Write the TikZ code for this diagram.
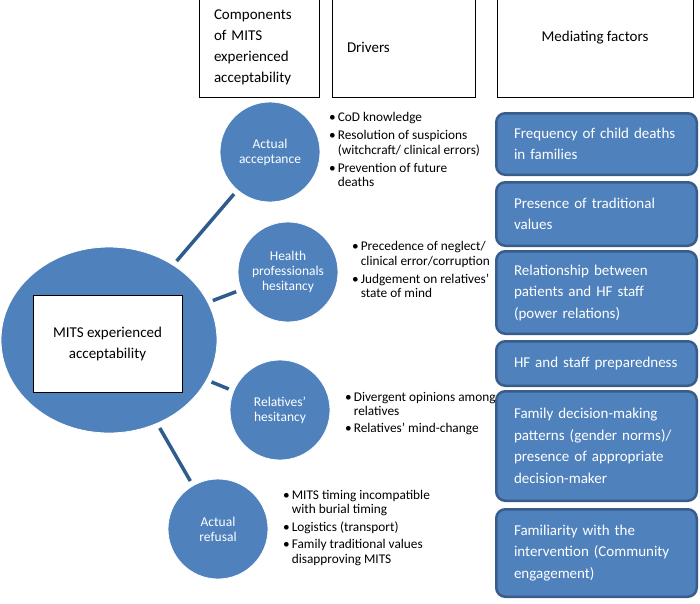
\documentclass[tikz,border=0pt]{standalone}
\usepackage{fontspec}
\setmainfont{Carlito}
\usetikzlibrary{shapes.geometric,positioning}
\definecolor{mitsblue}{HTML}{4F81BD}
\definecolor{mitsedge}{HTML}{385D8A}
\definecolor{mitsline}{HTML}{2E5C8E}
\newcommand{\bul}{\textbullet}
\tikzset{
headbox/.style={draw=black,line width=1pt,minimum height=99pt,inner xsep=15pt,font=\fontsize{15}{21}\selectfont},
hub/.style={ellipse,fill=mitsblue,draw=white,line width=0.8pt,minimum width=216pt,minimum height=186pt,inner sep=0pt},
hublabel/.style={draw=black,line width=1pt,fill=white,minimum width=149pt,minimum height=97pt,align=center,font=\fontsize{15}{21}\selectfont},
comp/.style={circle,fill=mitsblue,draw=white,line width=0.8pt,minimum size=100pt,inner sep=0pt,text=white,align=center,font=\fontsize{13.5}{15}\selectfont},
drivers/.style={anchor=west,inner sep=0pt,font=\fontsize{13.3}{14.5}\selectfont},
factor/.style={rounded corners=9pt,fill=mitsblue,draw=mitsedge,line width=2.5pt,minimum width=200.5pt,text width=165pt,inner xsep=17.75pt,align=left,text=white,font=\fontsize{15}{21.5}\selectfont},
spoke/.style={mitsline,line width=3.5pt,shorten <=5pt,shorten >=5pt}
}

\begin{document}
\begin{tikzpicture}[x=1pt,y=-1pt]
\useasboundingbox (0,0) rectangle (700,603);
% column headings
\node[headbox,minimum width=120pt,text width=90pt,align=left] (hcomp) at (259,47.5) {Components\\of MITS\\experienced\\acceptability};
\node[headbox,minimum width=143pt,text width=113pt,align=left] (hdrv) at (403.5,47.5) {Drivers};
\node[headbox,minimum width=196pt,align=center,text depth=22.5pt] (hmed) at (595,47.5) {Mediating factors};
% hub
\node[hub] (hub) at (109,340) {};
\node[hublabel] (hubtxt) at (107.5,343.5) {MITS experienced\\acceptability};
% components
\node[comp] (acc) at (270,152) {Actual\\acceptance};
\node[comp] (hpro) at (288,272) {Health\\professionals\\hesitancy};
\node[comp] (rel) at (280,410) {Relatives'\\hesitancy};
\node[comp] (ref) at (218,529) {Actual\\refusal};
\foreach \c in {acc,hpro,rel,ref}
  \draw[spoke] (hub) -- (\c);
% drivers
\node[drivers] (dacc) at (329,151.5) {\begin{tabular}{@{}l@{\hspace{2pt}}l@{}}
\bul & CoD knowledge\\[3.5pt]
\bul & Resolution of suspicions\\
 & (witchcraft/ clinical errors)\\[3.5pt]
\bul & Prevention of future\\
 & deaths
\end{tabular}};
\node[drivers] (dhpro) at (352,271.5) {\begin{tabular}{@{}l@{\hspace{2pt}}l@{}}
\bul & Precedence of neglect/\\
 & clinical error/corruption\\[3.5pt]
\bul & Judgement on relatives'\\
 & state of mind
\end{tabular}};
\node[drivers] (drel) at (345,414) {\begin{tabular}{@{}l@{\hspace{2pt}}l@{}}
\bul & Divergent opinions among\\
 & relatives\\[2pt]
\bul & Relatives' mind-change
\end{tabular}};
\node[drivers] (dref) at (283,528.5) {\begin{tabular}{@{}l@{\hspace{2pt}}l@{}}
\bul & MITS timing incompatible\\
 & with burial timing\\[3pt]
\bul & Logistics (transport)\\[3pt]
\bul & Family traditional values\\
 & disapproving MITS
\end{tabular}};
% mediating factors
\node[factor,minimum height=61.5pt] (f1) at (596.5,144) {Frequency of child deaths\\in families};
\node[factor,minimum height=63.5pt] (f2) at (596.5,214) {Presence of traditional\\values};
\node[factor,minimum height=82.5pt] (f3) at (596.5,292.5) {Relationship between\\patients and HF staff\\(power relations)};
\node[factor,minimum height=44.5pt] (f4) at (596.5,363.5) {HF and staff preparedness};
\node[factor,minimum height=109.5pt] (f5) at (596.5,446) {Family decision-making\\patterns (gender norms)/\\presence of appropriate\\decision-maker};
\node[factor,minimum height=87.5pt] (f6) at (596.5,553) {Familiarity with the\\intervention (Community\\engagement)};
\end{tikzpicture}
\end{document}
